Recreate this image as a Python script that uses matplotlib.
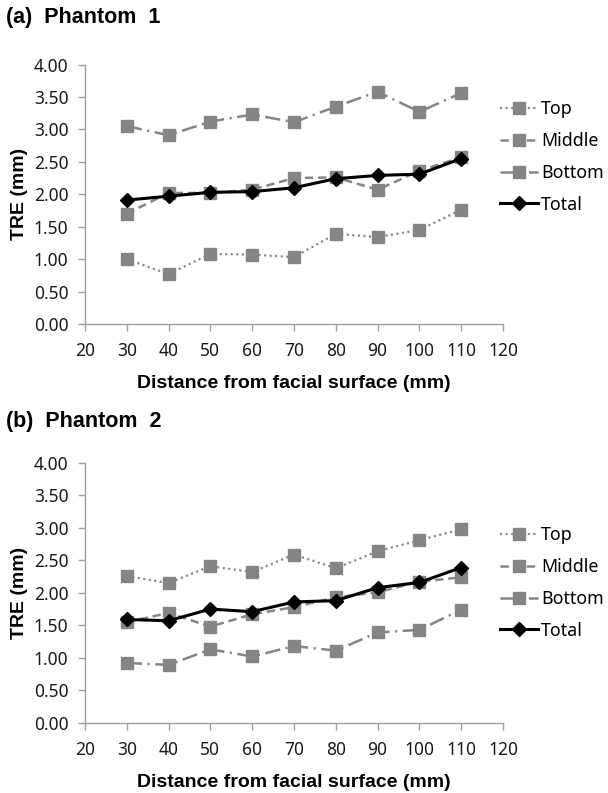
import numpy as np
import matplotlib
import matplotlib.pyplot as plt

matplotlib.use('agg')
plt.rcParams['lines.scale_dashes'] = False

distance = [30, 40, 50, 60, 70, 80, 90, 100, 110]
xticks = [20, 30, 40, 50, 60, 70, 80, 90, 100, 110, 120]
yticks = [0.0, 0.5, 1.0, 1.5, 2.0, 2.5, 3.0, 3.5, 4.0]

# phantom 1
top_1    = [1.00, 0.77, 1.08, 1.07, 1.03, 1.39, 1.34, 1.45, 1.76]
middle_1 = [1.70, 2.02, 2.02, 2.07, 2.25, 2.26, 2.07, 2.36, 2.57]
bottom_1 = [3.05, 2.91, 3.12, 3.23, 3.11, 3.35, 3.58, 3.27, 3.56]
total_1  = [1.91, 1.97, 2.03, 2.04, 2.10, 2.24, 2.29, 2.31, 2.55]

# phantom 2
top_2    = [2.26, 2.15, 2.41, 2.32, 2.59, 2.38, 2.64, 2.81, 2.98]
middle_2 = [1.55, 1.69, 1.48, 1.67, 1.78, 1.93, 2.01, 2.17, 2.24]
bottom_2 = [0.92, 0.89, 1.13, 1.02, 1.18, 1.11, 1.39, 1.43, 1.74]
total_2  = [1.59, 1.57, 1.75, 1.71, 1.86, 1.88, 2.08, 2.16, 2.39]

gray = '#858585'
W, H = 608, 793
tickfont = 'Noto Sans'
boldfont = 'Liberation Sans'


def panel(fig, rect, title, title_y, leg_top, top, middle, bottom, total):

    ax = fig.add_axes(rect)

    ax.plot(distance, top, label='Top', c=gray, lw=1.6, ls=(0, (1.5, 2.5)),
            marker='s', ms=8, mec=gray, mfc=gray)
    ax.plot(distance, middle, label='Middle', c=gray, lw=1.8, ls=(0, (6, 3.5)),
            marker='s', ms=8, mec=gray, mfc=gray)
    ax.plot(distance, bottom, label='Bottom', c=gray, lw=1.8, ls=(0, (11, 4, 1.5, 4)),
            marker='s', ms=8, mec=gray, mfc=gray)
    ax.plot(distance, total, label='Total', c='black', lw=2.2,
            marker='D', ms=7.5, mec='black', mfc='black')

    ax.set_xlim(20, 120)
    ax.set_ylim(0, 4)
    ax.set_xticks(xticks)
    ax.set_yticks(yticks)
    ax.set_yticklabels([f'{v:.2f}' for v in yticks])

    for s in ['top', 'right']:
        ax.spines[s].set_visible(False)
    for s in ['left', 'bottom']:
        ax.spines[s].set_color('#a0a0a0')
        ax.spines[s].set_linewidth(1.0)

    ax.tick_params(axis='both', direction='out', length=5, width=1, color='#a0a0a0')
    ax.tick_params(axis='x', pad=8)
    ax.tick_params(axis='y', pad=7)
    for lab in ax.get_xticklabels() + ax.get_yticklabels():
        lab.set_fontfamily(tickfont)
        lab.set_fontsize(12.5)
        lab.set_color('#1a1a1a')

    ax.set_xlabel('Distance from facial surface (mm)', fontfamily=boldfont,
                  fontweight='bold', fontsize=14, labelpad=11)
    ax.set_ylabel('TRE (mm)', fontfamily=boldfont, fontweight='bold',
                  fontsize=14, labelpad=4)

    fig.text(6 / W, 1 - title_y / H, title, fontfamily=boldfont,
             fontweight='bold', fontsize=15.5, va='center', ha='left')

    ax.legend(loc='upper left', bbox_to_anchor=(500 / W, 1 - leg_top / H),
              bbox_transform=fig.transFigure, frameon=False, borderpad=0,
              borderaxespad=0, handlelength=2.15, handletextpad=0.15,
              labelspacing=0.78, numpoints=1,
              prop={'family': tickfont, 'size': 12.8})
    return ax


fig = plt.figure(figsize=(W / 100, H / 100), dpi=100)

panel(fig, [85 / W, 1 - 324 / H, 418 / W, 259.5 / H], '(a)  Phantom  1', 17, 100,
      top_1, middle_1, bottom_1, total_1)
panel(fig, [85 / W, 1 - 722.7 / H, 418 / W, 259.7 / H], '(b)  Phantom  2', 422, 526,
      top_2, middle_2, bottom_2, total_2)

fig.savefig('out.png', dpi=100)
plt.close(fig)
